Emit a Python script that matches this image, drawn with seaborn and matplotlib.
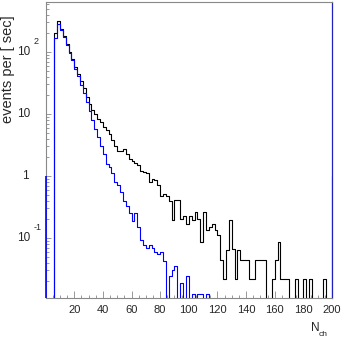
import numpy as np
import pandas as pd
import matplotlib
matplotlib.use("Agg")
import matplotlib.pyplot as plt
import seaborn as sns

# N_ch histograms, bins of width 2 starting at N_ch = 6
bin_lo = 6
bin_w = 2

# all events (black)
n_all = [202, 316, 235, 179, 136, 100, 77, 57, 44, 34,
         26, 19, 14.3, 11.5, 10, 8.4, 7.3, 6.2, 5.5, 4.8,
         3.8, 3.1, 2.5, 2.5, 2.75, 2.3, 1.9, 1.75, 1.64, 1.48,
         1.2, 1.17, 1.1, 0.81, 0.89, 0.85, 0.72, 0.47, 0.51, 0.47,
         0.39, 0.195, 0.41, 0.41, 0.20, 0.23, 0.17, 0.23, 0.195, 0.26,
         0.2, 0.087, 0.26, 0.135, 0.15, 0.17, 0.135, 0.11, 0.045, 0.022,
         0.064, 0.195, 0.066, 0.022, 0.064, 0.045, 0.045, 0.045, 0.022, 0.022,
         0.045, 0.045, 0.045, 0.045, 0, 0, 0.022, 0.045, 0.087, 0.022,
         0.022, 0.022, 0, 0, 0.022, 0, 0, 0.022, 0, 0.022,
         0, 0, 0, 0, 0.022, 0, 0, 1.0]

# selected events (blue)
n_sel = [168, 279, 229, 175, 128, 96, 73, 54, 40.5, 29,
         21.8, 15.6, 11.2, 7.9, 5.8, 4.3, 3.1, 2.3, 1.58, 1.4,
         1.1, 0.8, 0.71, 0.55, 0.40, 0.33, 0.25, 0.19, 0.25, 0.15,
         0.093, 0.077, 0.07, 0.077, 0.07, 0.06, 0.055, 0.06, 0.043, 0,
         0.024, 0.03, 0.036, 0, 0.019, 0, 0.024, 0, 0.0125, 0,
         0.0125, 0.0125, 0, 0.0125]

y_ticks = [0.1, 1, 10, 100]
y_exp = ["-1", None, None, "2"]
y_base = ["10", "1", "10", "10"]
x_ticks = list(range(0, 201, 20))

sns.set_style("ticks")
plt.rcParams["font.family"] = ["Liberation Sans", "DejaVu Sans"]

fig = plt.figure(figsize=(3.43, 3.39), dpi=100)
ax = fig.add_axes([45.6 / 343, 1 - 298 / 339, (332 - 45.6) / 343, 296 / 339])

floor = 1e-4
n_tot = len(n_all)
edges = bin_lo + bin_w * np.arange(n_tot + 1)


def step_frame(vals):
    v = np.zeros(n_tot)
    v[:len(vals)] = vals
    v = np.where(v > 0, v, floor)
    return pd.DataFrame({"x": np.concatenate([[edges[0]], edges]),
                         "y": np.concatenate([[floor], v, [floor]])})


sns.lineplot(data=step_frame(n_all), x="x", y="y", ax=ax, sort=False,
             estimator=None, drawstyle="steps-post", color="black", lw=0.8)
sns.lineplot(data=step_frame(n_sel), x="x", y="y", ax=ax, sort=False,
             estimator=None, drawstyle="steps-post", color="#0000ff", lw=0.8)

ax.set_yscale("log")
ax.set_xlim(0, 200)
ax.set_ylim(0.0108, 640)

# blue underflow marker on the left edge
ax.vlines(0, 0.0108, 1, color="#0000ff", lw=1.2, clip_on=False, zorder=5)

for s in ["top", "left", "bottom"]:
    ax.spines[s].set_color("#888888")
    ax.spines[s].set_linewidth(0.8)
ax.spines["right"].set_color("#2020c0")
ax.spines["right"].set_linewidth(0.9)

ax.set_xticks(x_ticks)
ax.set_xticklabels([""] + [str(t) for t in x_ticks[1:]])
ax.xaxis.set_minor_locator(matplotlib.ticker.MultipleLocator(5))
ax.tick_params(axis="x", which="major", direction="in", length=4.8, width=0.6,
               color="#888888", labelsize=8, pad=5.0)
ax.tick_params(axis="x", which="minor", direction="in", length=2.4, width=0.6,
               color="#888888")
ax.tick_params(axis="y", which="major", direction="in", length=3.4, width=0.6,
               color="#888888", labelleft=False)
ax.tick_params(axis="y", which="minor", direction="in", length=1.8, width=0.6,
               color="#888888")
ax.set_xlabel("")
ax.set_ylabel("")

# ROOT style decade labels
ytrans = matplotlib.transforms.blended_transform_factory(fig.transFigure, ax.transData)
for val, base, ex in zip(y_ticks, y_base, y_exp):
    xr = 30 / 343 if base == "10" else 28.5 / 343
    ax.text(xr, val, base, transform=ytrans, ha="right", va="center",
            fontsize=8.5)
    if ex:
        ax.text(33.5 / 343, val * 1.5, ex, transform=ytrans, ha="left",
                va="center", fontsize=6.5)

fig.text(8 / 343, 1 - 123 / 339, "events per [ sec]", rotation=90,
         ha="center", va="bottom", fontsize=10.5)
fig.text(311 / 343, 1 - 331 / 339, "N", ha="left", va="baseline", fontsize=8.5)
fig.text(318.5 / 343, 1 - 336 / 339, "ch", ha="left", va="baseline", fontsize=6)

fig.savefig("out.png", dpi=100)
